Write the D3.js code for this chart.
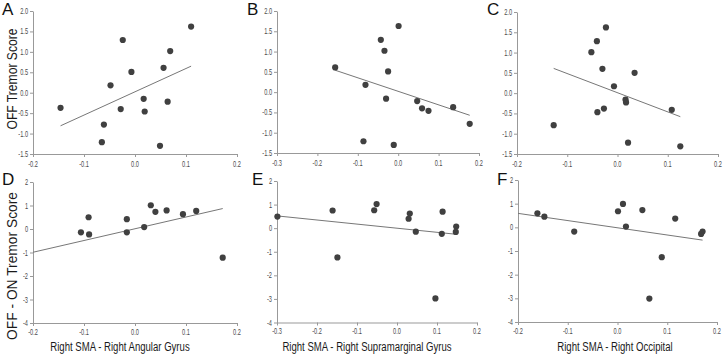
<!DOCTYPE html>
<html><head><meta charset="utf-8">
<script src="https://cdn.jsdelivr.net/npm/d3@7"></script>
<style>body{margin:0;background:#fff}svg{display:block}</style>
</head><body><svg id="c" width="727" height="357"></svg>
<script>
// ---------- data ----------
const panelLetters = ["A","B","C","D","E","F"];
const xTitles = ["Right SMA - Right Angular Gyrus","Right SMA - Right Supramarginal Gyrus","Right SMA - Right Occipital"];
const yTitles = ["OFF Tremor Score","OFF - ON Tremor Score"];
const xTicksAngular = [-0.2,-0.1,0.0,0.1,0.2];
const xTicksSupra = [-0.3,-0.2,-0.1,0.0,0.1,0.2];
const xTicksOccipital = [-0.2,-0.1,0.0,0.1,0.2];
const yTicksOff = [-1.5,-1.0,-0.5,0.0,0.5,1.0,1.5,2.0];
const yTicksDiff = [-4,-3,-2,-1,0,1,2];

const aX = [-0.146,-0.061,-0.065,-0.048,-0.024,-0.028,-0.007,0.017,0.019,0.049,0.056,0.064,0.069,0.110];
const aY = [-0.37,-0.78,-1.21,0.18,1.29,-0.40,0.51,-0.15,-0.46,-1.30,0.61,-0.22,1.02,1.62];
const aFitX = [-0.146,0.110], aFitY = [-0.81,0.65];

const bX = [-0.156,-0.081,-0.086,-0.043,-0.034,-0.025,-0.030,-0.011,0.001,0.047,0.059,0.075,0.136,0.177];
const bY = [0.61,0.18,-1.21,1.29,1.02,0.51,-0.16,-1.30,1.63,-0.22,-0.40,-0.46,-0.37,-0.78];
const bFitX = [-0.156,0.177], bFitY = [0.54,-0.57];

const cX = [-0.127,-0.023,-0.041,-0.052,-0.030,0.034,-0.007,0.016,0.017,-0.040,-0.027,0.108,0.021,0.125];
const cY = [-0.79,1.62,1.28,1.01,0.60,0.50,0.17,-0.16,-0.23,-0.47,-0.38,-0.41,-1.22,-1.31];
const cFitX = [-0.127,0.125], cFitY = [0.61,-0.58];

const dX = [-0.106,-0.091,-0.090,-0.016,-0.016,0.018,0.031,0.040,0.062,0.094,0.120,0.172];
const dY = [-0.14,0.50,-0.23,0.42,-0.14,0.08,1.01,0.73,0.79,0.63,0.77,-1.22];
const dFitX = [-0.2,0.172], dFitY = [-0.99,0.87];

const eX = [-0.299,-0.161,-0.149,-0.057,-0.051,0.029,0.032,0.047,0.096,0.112,0.114,0.147,0.148];
const eY = [0.49,0.75,-1.24,0.76,1.02,0.40,0.62,-0.15,-2.98,-0.24,0.70,-0.16,0.07];
const eFitX = [-0.3,0.143], eFitY = [0.52,-0.25];

const fX = [-0.161,-0.147,-0.087,0.001,0.011,0.017,0.050,0.064,0.089,0.116,0.168,0.171];
const fY = [0.59,0.45,-0.18,0.68,0.99,0.03,0.73,-3.01,-1.26,0.37,-0.28,-0.18];
const fFitX = [-0.2,0.171], fFitY = [0.59,-0.54];

// ---------- layout ----------
const boxes = [
  {x0:33,x1:237,y0:11,y1:154},
  {x0:277,x1:479,y0:11,y1:153},
  {x0:517,x1:718,y0:12,y1:154},
  {x0:33,x1:237,y0:182,y1:323},
  {x0:277,x1:477,y0:181,y1:322.5},
  {x0:518,x1:717,y0:180,y1:322}
];
const letterPos = [[2,15],[247,15],[487,15],[2,185],[252,185],[497,185]];
const titleCenters = [120,367,615];

const panels = [
  {xs:aX, ys:aY, fx:aFitX, fy:aFitY, xt:xTicksAngular, yt:yTicksOff, top:true},
  {xs:bX, ys:bY, fx:bFitX, fy:bFitY, xt:xTicksSupra, yt:yTicksOff, top:true},
  {xs:cX, ys:cY, fx:cFitX, fy:cFitY, xt:xTicksOccipital, yt:yTicksOff, top:true},
  {xs:dX, ys:dY, fx:dFitX, fy:dFitY, xt:xTicksAngular, yt:yTicksDiff, top:false},
  {xs:eX, ys:eY, fx:eFitX, fy:eFitY, xt:xTicksSupra, yt:yTicksDiff, top:false},
  {xs:fX, ys:fY, fx:fFitX, fy:fFitY, xt:xTicksOccipital, yt:yTicksDiff, top:false}
];

const svg = d3.select("#c");
const FONT = "'Liberation Sans', Arial, sans-serif";
const hy = s => s.replace("\u2212","-");
const fmt1 = v => hy(d3.format(".1f")(v));
const fmt0 = v => hy(d3.format("d")(v));

function label(g, str, x, y, size, anchor, stretch, rot, color){
  return g.append("text")
    .attr("transform", `translate(${x},${y})` + (rot ? ` rotate(${rot})` : "") + ` scale(${stretch},1)`)
    .attr("font-family", FONT).attr("font-size", size)
    .attr("text-anchor", anchor).attr("fill", color || "#222")
    .text(str);
}

panels.forEach((p, i) => {
  const b = boxes[i];
  const x = d3.scaleLinear().domain([p.xt[0], p.xt[p.xt.length-1]]).range([b.x0, b.x1]);
  const y = d3.scaleLinear().domain([p.yt[0], p.yt[p.yt.length-1]]).range([b.y1, b.y0]);
  const g = svg.append("g");

  const ax = g.append("g").attr("transform", `translate(0,${b.y1})`)
    .call(d3.axisBottom(x).tickValues(p.xt).tickSize(3).tickSizeOuter(0).tickFormat(""));
  const ay = g.append("g").attr("transform", `translate(${b.x0},0)`)
    .call(d3.axisLeft(y).tickValues(p.yt).tickSize(3).tickSizeOuter(0).tickFormat(""));
  [ax, ay].forEach(a => { a.selectAll("path,line").attr("stroke", "#999").attr("stroke-width", 1); });

  p.xt.forEach(v => label(g, fmt1(v), x(v), b.y1 + (p.top ? 12.5 : 11.5), 8.5, "middle", 0.66, 0, "#4a4a4a"));
  p.yt.forEach(v => label(g, p.top ? fmt1(v) : fmt0(v), b.x0 - 5, y(v) + 3, 8.5, "end", 0.66, 0, "#4a4a4a"));

  const line = d3.line().x(d => x(d[0])).y(d => y(d[1]));
  g.append("path").datum(d3.zip(p.fx, p.fy)).attr("d", line)
    .attr("fill", "none").attr("stroke", "#777").attr("stroke-width", 1);

  g.selectAll("circle").data(d3.zip(p.xs, p.ys)).join("circle")
    .attr("cx", d => x(d[0])).attr("cy", d => y(d[1])).attr("r", 3.1)
    .attr("fill", "#404040");

  svg.append("text").attr("x", letterPos[i][0]).attr("y", letterPos[i][1])
    .attr("font-family", FONT).attr("font-size", 17).attr("fill", "#111").text(panelLetters[i]);

  if (!p.top) {
    label(svg, xTitles[i-3], titleCenters[i-3], 351, 13.5, "middle", 0.71, 0, "#1a1a1a");
  }
});

label(svg, yTitles[0], 17, 79, 15, "middle", 0.81, -90, "#1a1a1a");
label(svg, yTitles[1], 17, 266, 15, "middle", 0.92, -90, "#1a1a1a");
</script></body></html>
